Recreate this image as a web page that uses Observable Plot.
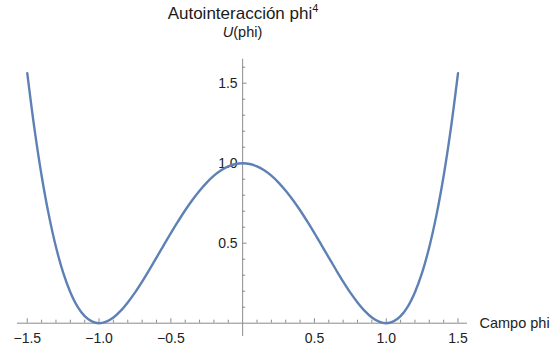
<!DOCTYPE html>
<html>
<head>
<meta charset="utf-8">
<script src="https://cdn.jsdelivr.net/npm/d3@7"></script>
<script src="https://cdn.jsdelivr.net/npm/@observablehq/plot@0.6"></script>
<style>
  body { margin: 0; background: white; }
  #wrap { position: relative; width: 550px; height: 347px; font-family: "Liberation Sans", Arial, sans-serif; }
  #title { position: absolute; left: 0; width: 486px; top: 4px; text-align: center; font-size: 17px; line-height: 20px; color: #1a1a1a; }
  #title sup { font-size: 11px; vertical-align: 7px; line-height: 0; }
  #ylab { position: absolute; left: 0; width: 485px; top: 24px; text-align: center; font-size: 14.5px; line-height: 16px; color: #1a1a1a; }
</style>
</head>
<body>
<div id="wrap">
  <div id="title">Autointeracción phi<sup>4</sup></div>
  <div id="ylab"><i>U</i>(phi)</div>
  <div id="chart"></div>
</div>
<script>
// Curve samples
const phi = [-1.5,-1.45,-1.4,-1.35,-1.3,-1.25,-1.2,-1.15,-1.1,-1.05,-1.0,-0.95,-0.9,-0.85,-0.8,-0.75,-0.7,-0.65,-0.6,-0.55,-0.5,-0.45,-0.4,-0.35,-0.3,-0.25,-0.2,-0.15,-0.1,-0.05,0,
             0.05,0.1,0.15,0.2,0.25,0.3,0.35,0.4,0.45,0.5,0.55,0.6,0.65,0.7,0.75,0.8,0.85,0.9,0.95,1.0,1.05,1.1,1.15,1.2,1.25,1.3,1.35,1.4,1.45,1.5];
const U = [1.563,1.216,0.922,0.677,0.476,0.316,0.194,0.104,0.044,0.011,0,0.010,0.036,0.077,0.130,0.191,0.260,0.334,0.410,0.487,0.563,0.636,0.706,0.770,0.828,0.879,0.922,0.956,0.980,0.995,1,
           0.995,0.980,0.956,0.922,0.879,0.828,0.770,0.706,0.636,0.563,0.487,0.410,0.334,0.260,0.191,0.130,0.077,0.036,0.010,0,0.011,0.044,0.104,0.194,0.316,0.476,0.677,0.922,1.216,1.563];

// Tick values
const xMajor = [-1.5,-1.0,-0.5,0.5,1.0,1.5];
const xMinor = [-1.4,-1.3,-1.2,-1.1,-0.9,-0.8,-0.7,-0.6,-0.4,-0.3,-0.2,-0.1,0.1,0.2,0.3,0.4,0.6,0.7,0.8,0.9,1.1,1.2,1.3,1.4];
const yMajor = [0.5,1.0,1.5];
const yMinor = [0.1,0.2,0.3,0.4,0.6,0.7,0.8,0.9,1.1,1.2,1.3,1.4,1.6];
const xLabel = "Campo phi";

const data = phi.map((p, i) => ({phi: p, U: U[i]}));
const fmt = d3.format(".1f");
const axisColor = "#8c8c8c";

const chart = Plot.plot({
  width: 550,
  height: 347,
  marginLeft: 17,
  marginRight: 83,
  marginTop: 58.7,
  marginBottom: 24.3,
  x: {domain: [-1.568, 1.566], axis: null},
  y: {domain: [0, 1.65], axis: null},
  style: {fontFamily: "'Liberation Sans', Arial, sans-serif", fontSize: "14px", background: "white", color: "#222"},
  marks: [
    // axes lines
    Plot.ruleY([0], {stroke: axisColor, strokeWidth: 1}),
    Plot.ruleX([0], {y1: -0.083, y2: 1.65, stroke: axisColor, strokeWidth: 1}),
    // x ticks (pointing up)
    Plot.ruleX(xMajor, {x: d => d, y1: 0, y2: 0.028, stroke: axisColor}),
    Plot.ruleX(xMinor, {x: d => d, y1: 0, y2: 0.019, stroke: axisColor}),
    // y ticks (pointing right)
    Plot.ruleY(yMajor, {y: d => d, x1: 0, x2: 0.031, stroke: axisColor}),
    Plot.ruleY(yMinor, {y: d => d, x1: 0, x2: 0.021, stroke: axisColor}),
    // tick labels
    Plot.text(xMajor, {x: d => d, y: 0, dy: 15, text: d => fmt(d), fill: "#222", fontSize: 14}),
    Plot.text(yMajor, {x: 0, y: d => d, dx: -5, textAnchor: "end", text: d => fmt(d), fill: "#222", fontSize: 14}),
    // x axis label
    Plot.text([xLabel], {frameAnchor: "right", y: 0, dx: 12, textAnchor: "start", text: d => d, fill: "#222", fontSize: 14.5}),
    // curve
    Plot.line(data, {x: "phi", y: "U", stroke: "#5E81B5", strokeWidth: 2.4, curve: "catmull-rom"})
  ]
});
document.getElementById("chart").appendChild(chart);
</script>
</body>
</html>
